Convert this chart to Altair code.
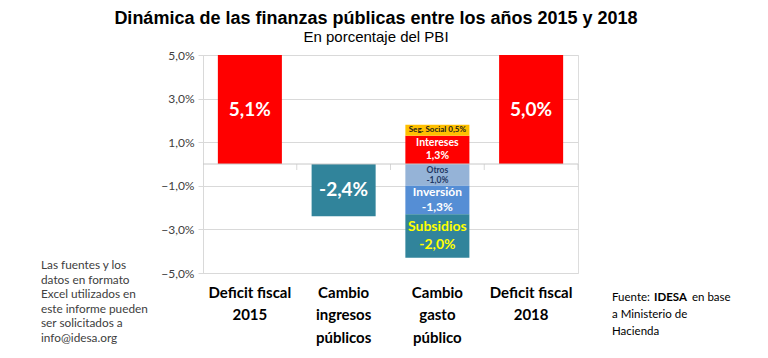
import altair as alt
import pandas as pd

# ---------------- data ----------------
categories = ["Deficit fiscal\n2015", "Cambio\ningresos\npúblicos",
              "Cambio\ngasto\npúblico", "Deficit fiscal\n2018"]

seg_category = [0, 1, 2, 2, 2, 2, 2, 3]
seg_name = ["Deficit 2015", "Ingresos", "Intereses", "Seg. Social",
            "Otros", "Inversión", "Subsidios", "Deficit 2018"]
seg_title = ["", "", "Intereses", "Seg. Social", "Otros", "Inversión", "Subsidios", ""]
seg_value = [5.1, -2.4, 1.3, 0.5, -1.0, -1.3, -2.0, 5.0]

y_ticks = [-5, -3, -1, 1, 3, 5]

title_text = "Dinámica de las finanzas públicas entre los años 2015 y 2018"
subtitle_text = "En porcentaje del PBI"
note_left = "Las fuentes y los\ndatos en formato\nExcel utilizados en\neste informe pueden\nser solicitados a\ninfo@idesa.org"
source_parts = ["Fuente: ", "IDESA", "en base"]
source_rest = "a Ministerio de\nHacienda"

# ---------------- styles ----------------
bar_colors = ["#FF0000", "#31849B", "#FF0000", "#FFC000",
              "#95B3D7", "#558ED5", "#31849B", "#FF0000"]
text_colors = ["#FFFFFF", "#FFFFFF", "#FFFFFF", "#1A1A1A",
               "#1F3864", "#FFFFFF", "#FFFF00", "#FFFFFF"]
text_sizes = [19, 19, 10.5, 8, 8.5, 12, 14, 19]
text_line_heights = [22, 22, 13, 10, 10.7, 15, 18, 22]
label_sep = {"Seg. Social": " "}


def pct(v):
    return f"{v:.1f}".replace(".", ",") + "%"


labels = []
for t, v in zip(seg_title, seg_value):
    if t:
        labels.append(t + label_sep.get(t, "\n") + pct(v))
    else:
        labels.append(pct(v))

df = pd.DataFrame({
    "cat": [categories[i] for i in seg_category],
    "seg": seg_name,
    "value": seg_value,
    "order": list(range(len(seg_name))),
    "label": labels,
})

W, H = 375, 218
FONT = "Lato"

x_enc = alt.X("cat:N", sort=categories,
              scale=alt.Scale(domain=categories, paddingInner=0, paddingOuter=0),
              axis=alt.Axis(labelExpr="split(datum.label, '\\n')", labelAngle=0,
                            labelFont=FONT, labelFontWeight="bold", labelFontSize=15,
                            labelColor="#000000", labelLineHeight=22.5,
                            labelPadding=12, domain=False, ticks=False, title=None))
y_scale = alt.Scale(domain=[-5, 5], nice=False, zero=False)

base = alt.Chart(df)

bars = base.mark_bar(width={"band": 0.683}, clip=True).encode(
    x=x_enc,
    y=alt.Y("value:Q", stack="zero", scale=y_scale,
            axis=alt.Axis(values=y_ticks, title=None,
                          labelExpr="replace(format(datum.value, '.1f'), '.', ',') + '%'",
                          grid=True, gridColor="#D9D9D9", gridWidth=1,
                          domainColor="#D9D9D9", tickColor="#D9D9D9", tickSize=5,
                          labelFont=FONT, labelFontSize=12, labelColor="#404040",
                          labelPadding=4)),
    color=alt.Color("seg:N", scale=alt.Scale(domain=seg_name, range=bar_colors), legend=None),
    order=alt.Order("order:Q"),
)

zero_line = alt.Chart(pd.DataFrame({"z": [0]})).mark_rule(color="#C8C8C8", strokeWidth=1).encode(
    y=alt.Y("z:Q", scale=y_scale)
)

ticks = alt.Chart(pd.DataFrame({"cat": categories})).mark_tick(
    orient="vertical", size=6, thickness=1, color="#C8C8C8", yOffset=3
).encode(
    x=alt.X("cat:N", sort=categories, bandPosition=1),
    y=alt.datum(0),
)

stacked = base.transform_stack(
    stack="value", groupby=["cat"], as_=["v0", "v1"],
    sort=[alt.SortField("order", order="ascending")]
).transform_calculate(
    mid="(clamp(datum.v0, -5, 5) + clamp(datum.v1, -5, 5)) / 2"
)

text_layers = []
for i, name in enumerate(seg_name):
    n_lines = labels[i].count("\n") + 1
    lh = text_line_heights[i]
    text_layers.append(
        stacked.transform_filter(alt.datum.seg == name).mark_text(
            font=FONT, fontWeight="bold", align="center", baseline="middle",
            lineBreak="\n", fontSize=text_sizes[i], color=text_colors[i],
            lineHeight=lh, dy=-(n_lines - 1) * lh / 2
        ).encode(
            x=alt.X("cat:N", sort=categories),
            y=alt.Y("mid:Q", scale=y_scale),
            text="label:N",
        )
    )

note = alt.Chart(pd.DataFrame({"t": [note_left]})).mark_text(
    font=FONT, fontSize=11.8, color="#404040", align="left", baseline="middle",
    lineBreak="\n", lineHeight=14.6
).encode(text="t:N", x=alt.value(-162), y=alt.value(210))

src1 = alt.Chart(pd.DataFrame({"t": [source_parts[0]]})).mark_text(
    font=FONT, fontSize=11.5, color="#000000", align="left", baseline="middle"
).encode(text="t:N", x=alt.value(409), y=alt.value(243))
src2 = alt.Chart(pd.DataFrame({"t": [source_parts[1]]})).mark_text(
    font=FONT, fontSize=11.5, fontWeight="bold", color="#000000", align="left", baseline="middle"
).encode(text="t:N", x=alt.value(451), y=alt.value(243))
src3 = alt.Chart(pd.DataFrame({"t": [source_parts[2]]})).mark_text(
    font=FONT, fontSize=11.5, color="#000000", align="left", baseline="middle"
).encode(text="t:N", x=alt.value(489), y=alt.value(243))
src4 = alt.Chart(pd.DataFrame({"t": [source_rest]})).mark_text(
    font=FONT, fontSize=11.5, color="#000000", align="left", baseline="middle",
    lineBreak="\n", lineHeight=16.7
).encode(text="t:N", x=alt.value(409), y=alt.value(260))

chart = alt.layer(bars, zero_line, ticks, *text_layers, note, src1, src2, src3, src4).properties(
    width=W, height=H,
    title=alt.TitleParams(text=title_text, subtitle=subtitle_text, anchor="middle",
                          font="Liberation Sans", fontSize=18, fontWeight="bold", color="#000000",
                          subtitleFont="Liberation Sans", subtitleFontSize=15,
                          subtitleColor="#000000", subtitlePadding=2, offset=4, dx=-14.5),
    autosize=alt.AutoSizeParams(type="none"),
    padding={"left": 195, "top": 47, "right": 182, "bottom": 77},
).configure_view(stroke=None).configure(background="white")

chart.save("out.html", embed_options={"renderer": "svg", "actions": False})
